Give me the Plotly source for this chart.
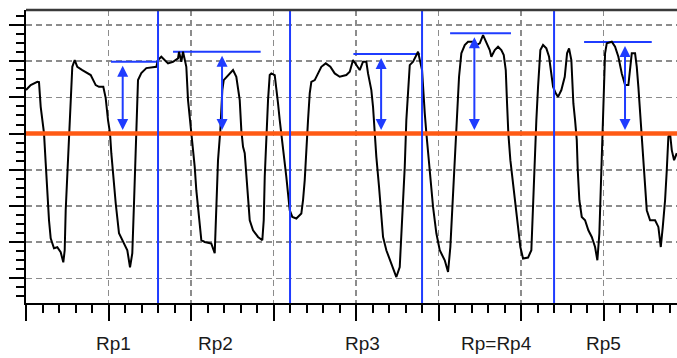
import plotly.graph_objects as go

# ---- profile data (x in sampling sub-units, y in profile units) ----
profile_x = [0.0, 0.285, 0.685, 0.788, 0.891, 1.091, 1.194, 1.291, 1.394, 1.497, 1.697, 1.897, 2.103, 2.261, 2.345,
             2.406, 2.503, 2.606, 2.667, 2.709, 2.806, 2.952, 3.109, 3.412, 3.921, 4.224, 4.424, 4.685, 4.830, 4.970,
             5.091, 5.170, 5.291, 5.436, 5.636, 5.939, 6.139, 6.303, 6.442, 6.545, 6.685, 6.788, 6.988, 7.291, 7.897,
             8.0, 8.2, 8.406, 8.606, 8.909, 9.212, 9.273, 9.412, 9.515, 9.715, 9.818, 10.018, 10.121, 10.224, 10.321,
             10.527, 10.624, 10.830, 11.230, 11.436, 11.533, 11.636, 11.776, 11.897, 11.982, 12.242, 12.545, 12.745,
             12.952, 13.048, 13.152, 13.255, 13.352, 13.455, 13.558, 13.758, 14.061, 14.321, 14.406, 14.467, 14.564,
             14.667, 14.770, 14.867, 15.073, 15.170, 15.273, 15.376, 15.533, 15.679, 15.776, 15.879, 15.982, 16.139,
             16.382, 16.685, 16.788, 16.891, 16.988, 17.091, 17.194, 17.291, 17.497, 17.697, 17.897, 18.164, 18.442,
             18.709, 19.012, 19.412, 19.618, 19.818, 20.018, 20.224, 20.424, 20.624, 20.727, 20.927, 21.030, 21.133,
             21.230, 21.394, 21.533, 21.636, 21.836, 22.139, 22.442, 22.648, 22.745, 22.848, 22.952, 23.048, 23.152,
             23.255, 23.455, 23.655, 23.758, 24.0, 24.061, 24.164, 24.261, 24.364, 24.503, 24.667, 24.867, 25.073,
             25.376, 25.576, 25.715, 25.836, 25.939, 26.079, 26.242, 26.382, 26.588, 26.788, 27.091, 27.291, 27.497,
             27.697, 27.897, 28.103, 28.200, 28.406, 28.606, 28.806, 28.952, 29.073, 29.152, 29.230, 29.352, 29.515,
             29.679, 29.818, 29.958, 30.121, 30.424, 30.624, 30.727, 30.830, 30.927, 31.030, 31.170, 31.333, 31.533,
             31.697, 31.776, 31.939, 32.103, 32.242, 32.442, 32.648, 32.788, 32.909, 33.048, 33.170, 33.273, 33.376,
             33.436, 33.533, 33.679, 33.879, 34.079, 34.285, 34.485, 34.624, 34.745, 34.830, 34.927, 34.988, 35.091,
             35.194, 35.497, 35.697, 35.897, 36.103, 36.303, 36.503, 36.606, 36.709, 36.909, 37.012, 37.109, 37.212,
             37.315, 37.412, 37.515, 37.618, 37.818, 38.121, 38.321, 38.467, 38.588, 38.727, 38.830, 38.927, 39.030,
             39.133, 39.273, 39.436]
profile_y = [20.81, 21.36, 21.72, 21.69, 18.96, 16.05, 12.73, 9.41, 6.42, 4.43, 3.32, 3.43, 2.88, 1.77, 3.10,
             7.53, 11.62, 15.27, 18.59, 20.81, 23.38, 24.13, 23.38, 23.02, 22.47, 21.36, 21.17, 21.17, 19.92, 17.49,
             16.05, 13.83, 11.18, 8.30, 4.98, 3.87, 3.10, 1.22, 2.77, 8.30, 17.49, 21.91, 22.69, 23.24, 23.38,
             24.13, 24.49, 24.13, 23.76, 23.94, 24.31, 25.04, 23.94, 25.04, 23.38, 19.70, 16.38, 14.53, 12.32, 9.74,
             6.42, 4.21, 4.02, 3.84, 2.77, 7.89, 13.06, 16.38, 20.81, 21.91, 22.47, 23.02, 22.28,
             19.70, 16.38, 14.53, 13.83, 11.62, 8.63, 6.42, 5.31, 4.57, 4.21, 6.42, 11.21, 15.64,
             19.70, 22.47, 22.65, 22.47, 21.17, 19.33, 17.49, 15.27, 13.06, 11.21, 9.37, 7.53, 6.78,
             6.61, 7.16, 8.63, 10.85, 14.91, 17.49, 20.44, 21.72, 21.91, 22.65, 23.38, 23.76, 23.38,
             22.65, 22.28, 22.47, 22.83, 24.13, 23.57, 23.02, 23.94, 23.94, 22.65, 20.81, 18.96, 16.01,
             13.42, 10.10, 7.16, 4.57, 3.10, 1.63, 0.14, 1.25, 4.57, 8.63, 12.32, 17.49, 21.17,
             23.57, 23.94, 24.68, 25.04, 23.02, 20.81, 18.26, 16.05, 13.83, 10.85, 7.89, 4.98, 3.10,
             1.99, 0.70, 3.46, 7.89, 12.32, 17.49, 22.28, 24.87, 25.79, 26.15, 26.15, 25.79, 25.97,
             26.89, 26.15, 25.23, 24.49, 25.23, 25.60, 25.23, 24.68, 23.02, 19.33, 16.01, 13.06, 10.48,
             7.89, 5.68, 3.46, 2.18, 2.29, 3.10, 8.27, 13.06, 17.49, 21.17, 25.23, 25.79, 25.42,
             24.49, 23.38, 21.17, 20.44, 20.06, 20.81, 22.28, 24.87, 25.42, 24.13, 19.33, 17.49, 15.27,
             11.95, 8.63, 6.78, 6.42, 5.31, 4.57, 3.46, 1.99, 4.95, 10.10, 16.74, 21.17, 24.87,
             25.97, 26.15, 25.60, 24.49, 22.65, 21.36, 21.36, 23.02, 24.87, 24.87, 23.38, 21.17, 18.23,
             15.64, 12.69, 10.10, 7.53, 6.42, 6.42, 5.68, 3.46, 5.68, 8.63, 11.95, 15.64, 16.01,
             14.17, 13.06, 13.83]

mean_line = 16.0
segment_bounds = [8, 16, 24, 32]

# Rp levels per sampling length, and extents of the marker lines
rp_level = [23.94, 25.04, 24.79, 27.08, 26.12]
rp_x0 = [5.15, 8.91, 19.84, 25.70, 33.82]
rp_x1 = [8.0, 14.22, 23.88, 29.39, 37.92]
rp_arrow_x = [5.86, 11.88, 21.52, 27.17, 36.30]

labels = ["Rp1", "Rp2", "Rp3", "Rp=Rp4", "Rp5"]
label_x = [5.3, 11.5, 20.4, 28.5, 35.0]

BLUE = "#1f3cff"
ORANGE = "#ff5a14"
GRID = "#8c8c8c"

fig = go.Figure()

# Rp horizontal lines
for lv, a, b in zip(rp_level, rp_x0, rp_x1):
    fig.add_trace(go.Scatter(x=[a, b], y=[lv, lv], mode="lines",
                             line=dict(color=BLUE, width=2), hoverinfo="skip"))

# profile
fig.add_trace(go.Scatter(x=profile_x, y=profile_y, mode="lines",
                         line=dict(color="black", width=2), hoverinfo="skip"))

shapes = []
shapes.append(dict(type="line", xref="paper", yref="y", x0=0, x1=1, y0=mean_line, y1=mean_line,
                   line=dict(color=ORANGE, width=4.5), layer="above"))
for b in segment_bounds:
    shapes.append(dict(type="line", xref="x", yref="paper", x0=b, x1=b, y0=0, y1=1,
                       line=dict(color=BLUE, width=2), layer="above"))
shapes.append(dict(type="line", xref="paper", yref="paper", x0=0, x1=1, y0=1, y1=1,
                   line=dict(color="#3a3a3a", width=2.5), layer="above"))

annotations = []
for ax_, lv in zip(rp_arrow_x, rp_level):
    annotations.append(dict(x=ax_, y=lv, ax=ax_, ay=mean_line, xref="x", yref="y",
                            axref="x", ayref="y", text="", showarrow=True,
                            arrowhead=2, startarrowhead=2, arrowside="end+start",
                            arrowsize=1.1, startarrowsize=1.1, arrowwidth=2,
                            arrowcolor=BLUE, standoff=4, startstandoff=2))
for t, lx in zip(labels, label_x):
    annotations.append(dict(x=lx, y=-0.138, xref="x", yref="paper", text=t, showarrow=False,
                            xanchor="center", yanchor="middle",
                            font=dict(family="Liberation Sans, Arial", size=19, color="#1a1a1a")))

fig.update_layout(
    width=677, height=358,
    margin=dict(l=26, r=0, t=10, b=55),
    paper_bgcolor="white", plot_bgcolor="white",
    showlegend=False, hovermode=False,
    shapes=shapes, annotations=annotations,
    xaxis=dict(range=[0, 39.45], tick0=0, dtick=5, ticks="outside", ticklen=16, tickwidth=2,
               tickcolor="black", showticklabels=False, showline=True, linecolor="black", linewidth=2,
               showgrid=True, gridcolor=GRID, gridwidth=1.5, griddash="6px,4px", zeroline=False,
               minor=dict(dtick=1, tick0=0, ticks="outside", ticklen=8, tickwidth=2, tickcolor="black",
                          showgrid=False)),
    yaxis=dict(range=[-2.73, 29.66], tick0=0, dtick=4, ticks="outside", ticklen=15, tickwidth=2,
               tickcolor="black", showticklabels=False, showline=True, linecolor="black", linewidth=2,
               showgrid=True, gridcolor=GRID, gridwidth=1.5, griddash="6px,4px", zeroline=False,
               minor=dict(dtick=1, tick0=0, ticks="outside", ticklen=8, tickwidth=2, tickcolor="black",
                          showgrid=False)),
)

fig.write_html("out.html", config={"displayModeBar": False, "staticPlot": True},
               post_script="document.body.style.margin='0';document.body.style.overflow='hidden';")
